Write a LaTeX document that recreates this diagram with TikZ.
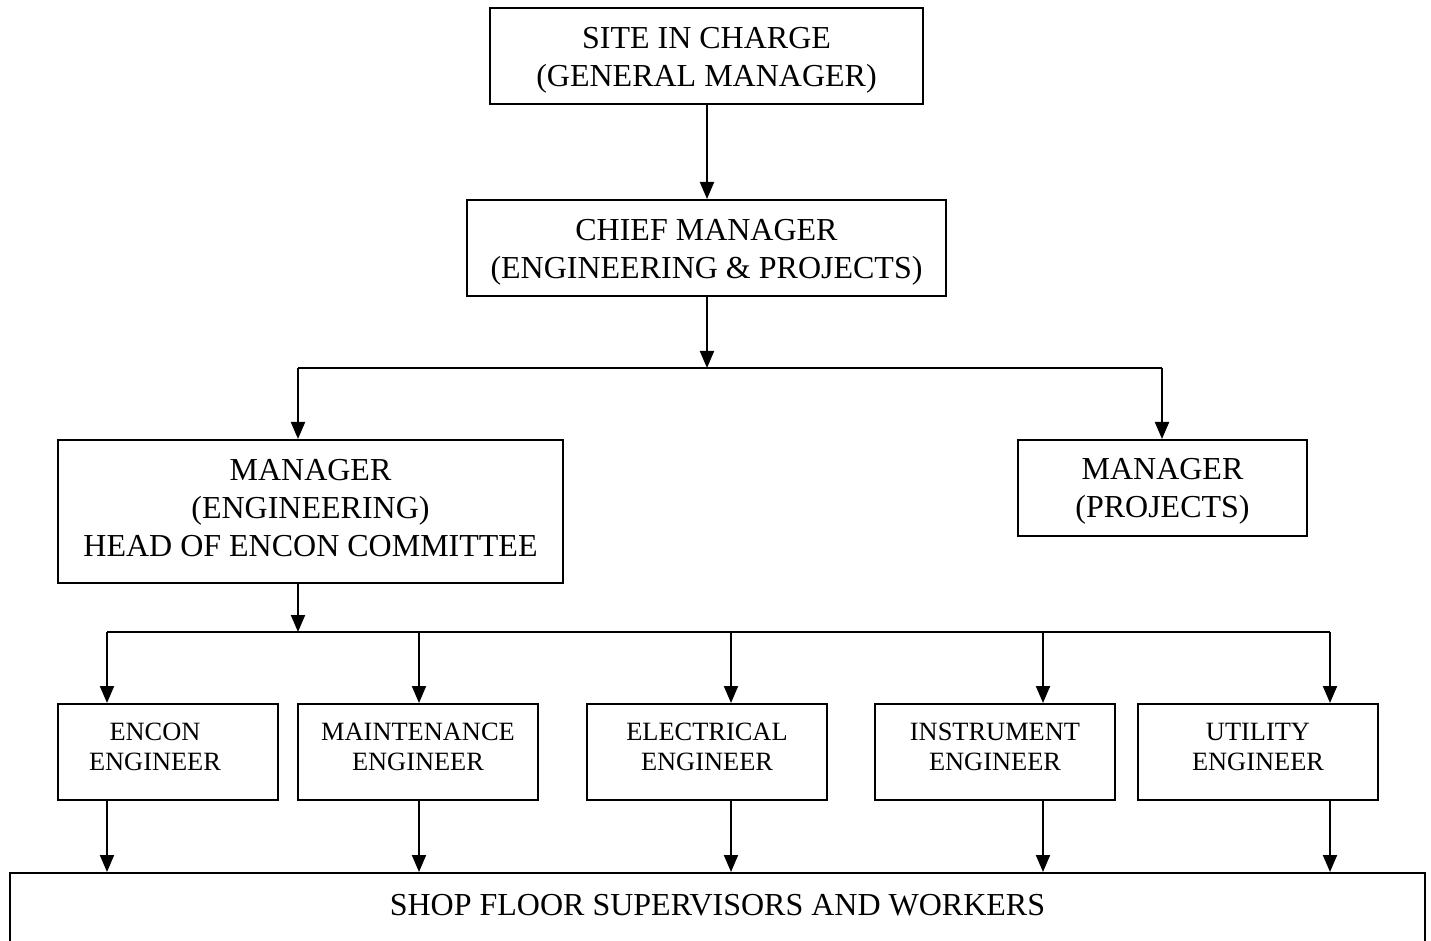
\documentclass[tikz,border=0pt]{standalone}
\usepackage{fontspec}
\setmainfont{Liberation Serif}
\usetikzlibrary{arrows.meta}
\newcommand\boxtext[3]{\raisebox{#2}[\height][\depth]{\kern#1\begin{tabular}{@{}c@{}}#3\end{tabular}\kern-#1}}
\begin{document}
\begin{tikzpicture}[x=0.5pt,y=-0.5pt,
  box/.style={draw, line width=1pt, inner sep=0pt, font=\fontsize{16}{19}\selectfont},
  smallbox/.style={box, minimum height=48pt, font=\fontsize{13.2}{15}\selectfont},
  conn/.style={line width=1pt},
  arr/.style={conn, -{Triangle[length=8.5pt,width=7pt]}}]
\path[use as bounding box, clip] (0,0) rectangle (1431,941);
\fill[white] (0,0) rectangle (1431,941);
% top boxes
\node[box, minimum width=216.5pt, minimum height=48pt] (site) at (706.5,56) {\boxtext{0pt}{-2pt}{SITE IN CHARGE\\(GENERAL MANAGER)}};
\node[box, minimum width=239.5pt, minimum height=48pt] (chief) at (706.5,248) {\boxtext{0pt}{-2pt}{CHIEF MANAGER\\(ENGINEERING \& PROJECTS)}};
\node[box, minimum width=252.5pt, minimum height=71.5pt] (meng) at (310.5,511.5) {\boxtext{0pt}{0.5pt}{MANAGER\\(ENGINEERING)\\HEAD OF ENCON COMMITTEE}};
\node[box, minimum width=144.5pt, minimum height=48pt] (mproj) at (1162.5,488) {\boxtext{0pt}{-1.5pt}{MANAGER\\(PROJECTS)}};
% engineers
\node[smallbox, minimum width=110pt] (encon) at (168,752) {\boxtext{-6.5pt}{1.5pt}{ENCON\\ENGINEER}};
\node[smallbox, minimum width=120pt] (maint) at (418,752) {\boxtext{0pt}{1.5pt}{MAINTENANCE\\ENGINEER}};
\node[smallbox, minimum width=120pt] (elec) at (707,752) {\boxtext{0pt}{1.5pt}{ELECTRICAL\\ENGINEER}};
\node[smallbox, minimum width=120pt] (inst) at (995,752) {\boxtext{0pt}{1.5pt}{INSTRUMENT\\ENGINEER}};
\node[smallbox, minimum width=120pt] (util) at (1258,752) {\boxtext{0pt}{1.5pt}{UTILITY\\ENGINEER}};
% shop floor
\node[box, anchor=north, minimum width=707.5pt, text height=21pt, text depth=23pt] (shop) at (717.5,872) {SHOP FLOOR SUPERVISORS AND WORKERS};
% junctions
\coordinate (ja) at (707,368);
\coordinate (jl) at (298,368);
\coordinate (jr) at (1162,368);
\coordinate (jm) at (298,632);
\coordinate (b1) at (107,632);
\coordinate (b2) at (419,632);
\coordinate (b3) at (731,632);
\coordinate (b4) at (1043,632);
\coordinate (b5) at (1330,632);
% connectors
\draw[arr] (site.south -| ja) -- (chief.north -| ja);
\draw[arr] (chief.south -| ja) -- (ja);
\draw[conn] (jl) -- (jr);
\draw[arr] (jl) -- (jl |- meng.north);
\draw[arr] (jr) -- (jr |- mproj.north);
\draw[arr] (meng.south -| jm) -- (jm);
\draw[conn] (b1) -- (b5);
\draw[arr] (b1) -- (b1 |- encon.north);
\draw[arr] (b2) -- (b2 |- maint.north);
\draw[arr] (b3) -- (b3 |- elec.north);
\draw[arr] (b4) -- (b4 |- inst.north);
\draw[arr] (b5) -- (b5 |- util.north);
\draw[arr] (b1 |- encon.south) -- (b1 |- shop.north);
\draw[arr] (b2 |- maint.south) -- (b2 |- shop.north);
\draw[arr] (b3 |- elec.south) -- (b3 |- shop.north);
\draw[arr] (b4 |- inst.south) -- (b4 |- shop.north);
\draw[arr] (b5 |- util.south) -- (b5 |- shop.north);
\end{tikzpicture}
\end{document}
